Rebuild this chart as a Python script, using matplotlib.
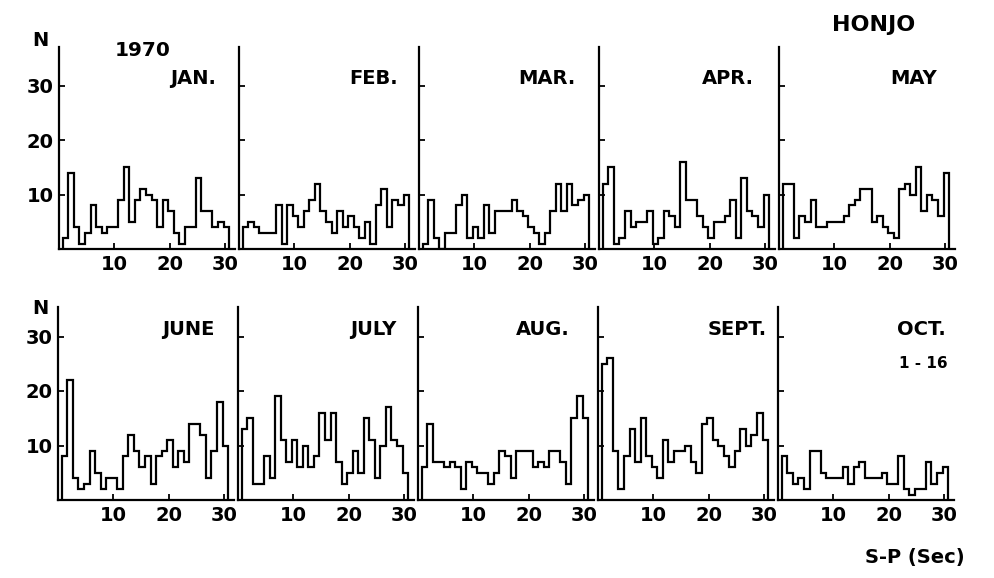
import numpy as np
import matplotlib
matplotlib.use("Agg")
import matplotlib.pyplot as plt

# ---- data: number of events per 1-second S-P bin (1..30 s), Honjo 1970 ----
sp_seconds = np.arange(1, 31)

jan = [2, 14, 4, 1, 3, 8, 4, 3, 4, 4, 9, 15, 5, 9, 11, 10, 9, 4, 9, 7, 3, 1, 4, 4, 13, 7, 7, 4, 5, 4]
feb = [4, 5, 4, 3, 3, 3, 8, 1, 8, 6, 4, 7, 9, 12, 7, 5, 3, 7, 4, 6, 4, 2, 5, 1, 8, 11, 4, 9, 8, 10]
mar = [1, 9, 2, 0, 3, 3, 8, 10, 2, 4, 2, 8, 3, 7, 7, 7, 9, 7, 6, 4, 3, 1, 3, 7, 12, 7, 12, 8, 9, 10]
apr = [12, 15, 1, 2, 7, 4, 5, 5, 7, 1, 2, 7, 6, 4, 16, 9, 9, 6, 4, 2, 5, 5, 6, 9, 2, 13, 7, 6, 4, 10]
may = [12, 12, 2, 6, 5, 9, 4, 4, 5, 5, 5, 6, 8, 9, 11, 11, 5, 6, 4, 3, 2, 11, 12, 10, 15, 7, 10, 9, 6, 14]
jun = [8, 22, 4, 2, 3, 9, 5, 2, 4, 4, 2, 8, 12, 9, 6, 8, 3, 8, 9, 11, 6, 9, 7, 14, 14, 12, 4, 9, 18, 10]
jul = [13, 15, 3, 3, 8, 4, 19, 11, 7, 11, 6, 10, 6, 8, 16, 11, 16, 7, 3, 5, 9, 5, 15, 11, 4, 10, 17, 11, 10, 5]
aug = [6, 14, 7, 7, 6, 7, 6, 2, 7, 6, 5, 5, 3, 5, 9, 8, 4, 9, 9, 9, 6, 7, 6, 9, 9, 7, 3, 15, 19, 15]
sep = [25, 26, 9, 2, 8, 13, 7, 15, 8, 6, 4, 11, 7, 9, 9, 10, 7, 5, 14, 15, 11, 10, 8, 6, 9, 13, 10, 12, 16, 11]
octo = [8, 5, 3, 4, 2, 9, 9, 5, 4, 4, 4, 6, 3, 6, 7, 4, 4, 4, 5, 3, 3, 8, 2, 1, 2, 2, 7, 3, 5, 6]

months = ["JAN.", "FEB.", "MAR.", "APR.", "MAY", "JUNE", "JULY", "AUG.", "SEPT.", "OCT."]
series = [jan, feb, mar, apr, may, jun, jul, aug, sep, octo]
xticks = [10, 20, 30]
yticks = [10, 20, 30]

# ---- layout ----
W, H = 994, 578
fig = plt.figure(figsize=(W / 100, H / 100), dpi=100)
fig.patch.set_facecolor("white")

px_per_x = 5.54
px_per_y = 5.45
xmax = 180 / px_per_x
rows = [dict(left0=59, base=249, ymax=37.0, n_y=41), dict(left0=58, base=500, ymax=35.5, n_y=309)]
label_right = [28.3, 28.6, 28.3, 27.9, 28.5, 28.3, 28.6, 27.3, 30.5, 30.3]

edges = np.append(sp_seconds - 0.3, sp_seconds[-1] + 0.7)
bold = dict(fontweight="bold", family="DejaVu Sans")
lw = 1.6

for i, (name, vals) in enumerate(zip(months, series)):
    r, c = divmod(i, 5)
    row = rows[r]
    left = row["left0"] + 180 * c
    hpx = row["ymax"] * px_per_y
    ax = fig.add_axes([left / W, (H - row["base"]) / H, 180 / W, hpx / H])
    ax.set_xlim(0, xmax)
    ax.set_ylim(0, row["ymax"])
    ax.patch.set_alpha(0)
    ax.stairs(vals, edges, color="black", lw=lw, baseline=0)
    for s in ["top", "right"]:
        ax.spines[s].set_visible(False)
    for s in ["left", "bottom"]:
        ax.spines[s].set_linewidth(lw)
    ax.spines["bottom"].set_bounds(0, 31.8)
    ax.set_xticks(xticks)
    ax.set_xticklabels([str(t) for t in xticks], fontsize=14, **bold)
    ax.set_yticks(yticks)
    if c == 0:
        ax.set_yticklabels([str(t) for t in yticks], fontsize=14, **bold)
    else:
        ax.set_yticklabels([])
    ax.tick_params(axis="both", direction="in", length=4, width=1.3, pad=4)
    ax.text(label_right[i], 31.2, name, ha="right", va="center", fontsize=14, **bold)
    if name == "OCT.":
        ax.text(label_right[i] + 0.4, 25.0, "1 - 16", ha="right", va="center", fontsize=11, **bold)
    if c == 0:
        fig.text(40 / W, 1 - row["n_y"] / H, "N", ha="center", va="center", fontsize=14, **bold)

fig.text(874 / W, 1 - 25 / H, "HONJO", ha="center", va="center", fontsize=16, **bold)
fig.text(143 / W, 1 - 51 / H, "1970", ha="center", va="center", fontsize=14.5, **bold)
fig.text(915 / W, 1 - 558 / H, "S-P (Sec)", ha="center", va="center", fontsize=14, **bold)

fig.savefig("out.png", dpi=100, facecolor="white")
